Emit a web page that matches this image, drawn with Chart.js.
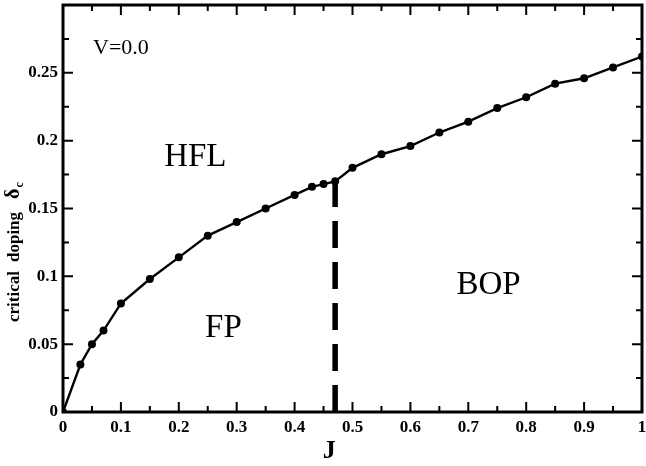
<!DOCTYPE html>
<html>
<head>
<meta charset="utf-8">
<script src="https://cdn.jsdelivr.net/npm/chart.js@4/dist/chart.umd.min.js"></script>
<style>
  html, body { margin: 0; padding: 0; background: #fff; }
  #wrap { width: 646px; height: 466px; position: relative; }
</style>
</head>
<body>
<div id="wrap"><canvas id="c" width="646" height="466"></canvas></div>
<script>
// ---- data ----
const couplingJ = [0, 0.03, 0.05, 0.07, 0.10, 0.15, 0.20, 0.25, 0.30, 0.35, 0.40, 0.43, 0.45, 0.47,
                   0.50, 0.55, 0.60, 0.65, 0.70, 0.75, 0.80, 0.85, 0.90, 0.95, 1.00];
const criticalDoping = [0, 0.035, 0.050, 0.060, 0.080, 0.098, 0.114, 0.130, 0.140, 0.150, 0.160, 0.166, 0.168, 0.170,
                        0.180, 0.190, 0.196, 0.206, 0.214, 0.224, 0.232, 0.242, 0.246, 0.254, 0.262];
const boundaryJ = [0.47, 0.47];
const boundaryDoping = [0, 0.17];
const xTicks = [0, 0.1, 0.2, 0.3, 0.4, 0.5, 0.6, 0.7, 0.8, 0.9, 1];
const yTicks = [0, 0.05, 0.1, 0.15, 0.2, 0.25];
const regionNames = ['V=0.0', 'HFL', 'FP', 'BOP'];
const regionJ = [0.100, 0.2285, 0.277, 0.735];
const regionDoping = [0.2684, 0.188, 0.062, 0.0937];

const SERIF = '"Liberation Serif", "Times New Roman", serif';

const curve = couplingJ.map((x, i) => ({ x: x, y: criticalDoping[i] }));
const boundary = boundaryJ.map((x, i) => ({ x: x, y: boundaryDoping[i] }));

const framePlugin = {
  id: 'frame',
  afterDraw(chart) {
    const ctx = chart.ctx;
    const a = chart.chartArea;
    const xs = chart.scales.x, ys = chart.scales.y;
    ctx.save();
    // inward ticks, mirrored on all sides
    ctx.strokeStyle = '#000';
    ctx.lineWidth = 2;
    const major = 10, minor = 6;
    const xv = xs.ticks.map(t => t.value);
    const yv = ys.ticks.map(t => t.value);
    function minors(vals, max) {
      const out = [];
      for (let i = 0; i < vals.length - 1; i++) out.push((vals[i] + vals[i + 1]) / 2);
      const step = vals[1] - vals[0];
      const nxt = vals[vals.length - 1] + step / 2;
      if (nxt < max - 1e-9) out.push(nxt);
      return out;
    }
    ctx.beginPath();
    xv.forEach(v => { const p = xs.getPixelForValue(v);
      ctx.moveTo(p, a.bottom); ctx.lineTo(p, a.bottom - major);
      ctx.moveTo(p, a.top); ctx.lineTo(p, a.top + major); });
    minors(xv, xs.max).forEach(v => { const p = xs.getPixelForValue(v);
      ctx.moveTo(p, a.bottom); ctx.lineTo(p, a.bottom - minor);
      ctx.moveTo(p, a.top); ctx.lineTo(p, a.top + minor); });
    yv.forEach(v => { const p = ys.getPixelForValue(v);
      ctx.moveTo(a.left, p); ctx.lineTo(a.left + major, p);
      ctx.moveTo(a.right, p); ctx.lineTo(a.right - major, p); });
    minors(yv, ys.max).forEach(v => { const p = ys.getPixelForValue(v);
      ctx.moveTo(a.left, p); ctx.lineTo(a.left + minor, p);
      ctx.moveTo(a.right, p); ctx.lineTo(a.right - minor, p); });
    ctx.stroke();
    // frame
    ctx.lineWidth = 3;
    ctx.strokeRect(a.left, a.top, a.right - a.left, a.bottom - a.top);

    // region labels
    ctx.fillStyle = '#000';
    ctx.textAlign = 'center';
    ctx.textBaseline = 'middle';
    regionNames.forEach((name, i) => {
      ctx.font = (i === 0 ? '22px ' : '33px ') + SERIF;
      ctx.fillText(name, xs.getPixelForValue(regionJ[i]), ys.getPixelForValue(regionDoping[i]));
    });

    // x axis title
    ctx.font = 'bold 26px ' + SERIF;
    ctx.fillText('J', xs.getPixelForValue(0.46), 451);

    // y axis title with subscript (reads bottom to top)
    ctx.translate(19, 322);
    ctx.rotate(-Math.PI / 2);
    ctx.textAlign = 'left';
    ctx.textBaseline = 'alphabetic';
    ctx.font = 'bold 17px ' + SERIF;
    const w1 = ctx.measureText('critical').width;
    ctx.fillText('critical', 0, 0);
    const x2 = w1 + 9;
    ctx.fillText('doping', x2, 0);
    const x3 = x2 + ctx.measureText('doping').width + 13;
    ctx.font = 'bold 20px ' + SERIF;
    ctx.fillText('δ', x3, 0);
    const x4 = x3 + ctx.measureText('δ').width + 1;
    ctx.font = 'bold 12px ' + SERIF;
    ctx.fillText('c', x4, 4);
    ctx.restore();
  }
};

new Chart(document.getElementById('c'), {
  type: 'scatter',
  data: {
    datasets: [
      {
        label: 'critical doping',
        data: curve,
        showLine: true,
        borderColor: '#000',
        backgroundColor: '#000',
        borderWidth: 2.4,
        pointRadius: 4,
        pointBackgroundColor: '#000',
        pointBorderColor: '#000',
        pointBorderWidth: 0,
        tension: 0
      },
      {
        label: 'boundary',
        data: boundary,
        showLine: true,
        borderColor: '#000',
        borderWidth: 5.5,
        borderDash: [27, 14],
        pointRadius: 0,
        borderCapStyle: 'butt'
      }
    ]
  },
  options: {
    responsive: false,
    animation: false,
    devicePixelRatio: 1,
    layout: { padding: { top: 5, right: 1, left: 0, bottom: 0 } },
    plugins: {
      legend: { display: false },
      tooltip: { enabled: false },
      title: { display: false }
    },
    scales: {
      x: {
        type: 'linear',
        min: 0, max: 1,
        afterBuildTicks(scale) { scale.ticks = xTicks.map(v => ({ value: v })); },
        afterFit(scale) { scale.height = 54; scale.paddingLeft = 0; scale.paddingRight = 0; },
        grid: { display: false, drawTicks: false },
        border: { display: false },
        ticks: {
          padding: 5,
          color: '#000',
          maxRotation: 0,
          autoSkip: false,
          font: { family: SERIF, size: 17, weight: 'bold' },
          callback: v => String(v)
        }
      },
      y: {
        type: 'linear',
        min: 0, max: 0.3,
        afterBuildTicks(scale) { scale.ticks = yTicks.map(v => ({ value: v })); },
        afterFit(scale) { scale.width = 63; scale.paddingTop = 0; scale.paddingBottom = 0; },
        grid: { display: false, drawTicks: false },
        border: { display: false },
        ticks: {
          padding: 5,
          color: '#000',
          autoSkip: false,
          font: { family: SERIF, size: 17, weight: 'bold' },
          callback: v => String(v)
        }
      }
    }
  },
  plugins: [framePlugin]
});
</script>
</body>
</html>
